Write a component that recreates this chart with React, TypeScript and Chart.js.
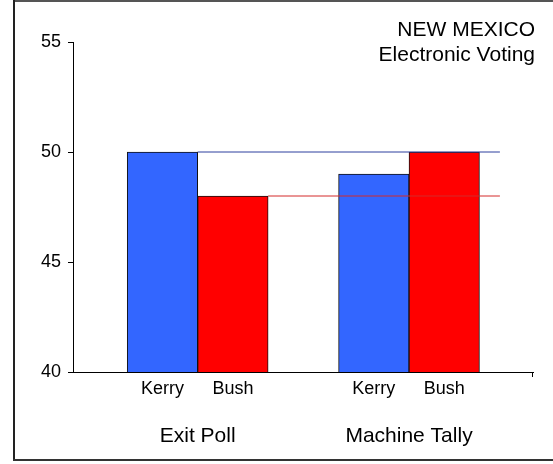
import React, { useEffect, useRef } from "react";
import { Chart, registerables } from "chart.js";

Chart.register(...registerables);

// ---- data ----
const groups = ["Exit Poll", "Machine Tally"];
const candidates = ["Kerry", "Bush"];
const exitPoll = [50, 48];
const machineTally = [49, 50];
const yTicks = [40, 45, 50, 55];
const titleLines = ["NEW MEXICO", "Electronic Voting"];

// ---- styling ----
const candidateColors = ["#3366ff", "#ff0000"];
const lineColors = ["#2c3f9e", "#d42a2a"];
const FONT = '"Liberation Sans", Arial, sans-serif';

const groupValues = [exitPoll, machineTally];
const SLOTS_PER_GROUP = candidates.length + 1;
const slot = (g: number, c: number) => g * SLOTS_PER_GROUP + c;
const X_MIN = -1.27;
const X_MAX = 5.26;
const X_LINE_END = 4.79;

const framePlugin = {
  id: "frame",
  beforeDraw(chart: any) {
    const { ctx, width } = chart;
    ctx.save();
    ctx.fillStyle = "#ffffff";
    ctx.fillRect(0, 0, width, chart.height);
    ctx.fillStyle = "#555555";
    ctx.fillRect(13, 0, width - 13, 2);
    ctx.fillStyle = "#222222";
    ctx.fillRect(13, 0, 2, 461);
    ctx.fillStyle = "#333333";
    ctx.fillRect(13, 459, width - 13, 2);
    ctx.restore();
  },
  afterDraw(chart: any) {
    const { ctx, chartArea } = chart;
    ctx.save();
    ctx.fillStyle = "#000";
    ctx.fillRect(Math.round(chartArea.right) - 1, Math.round(chartArea.bottom), 1, 5);
    ctx.restore();
  },
};

const titlePlugin = {
  id: "cornerTitle",
  afterDraw(chart: any) {
    const { ctx, chartArea } = chart;
    ctx.save();
    ctx.font = `21px ${FONT}`;
    ctx.fillStyle = "#000";
    ctx.textAlign = "right";
    ctx.textBaseline = "alphabetic";
    titleLines.forEach((t, i) => ctx.fillText(t, chartArea.right + 2, 36 + i * 25));
    ctx.restore();
  },
};

export default function App() {
  const ref = useRef<HTMLCanvasElement | null>(null);

  useEffect(() => {
    if (!ref.current) return;

    const barData = groupValues.flatMap((vals, g) =>
      vals.map((v, c) => ({ x: slot(g, c), y: v }))
    );
    const barColors = groupValues.flatMap((vals) =>
      vals.map((_, c) => candidateColors[c])
    );
    const barSlots = barData.map((d) => d.x);

    const lineSets = candidates.map((name, c) => ({
      type: "line" as const,
      label: name + " exit poll",
      data: [
        { x: slot(0, c) + 0.5, y: exitPoll[c] },
        { x: X_LINE_END, y: exitPoll[c] },
      ],
      borderColor: lineColors[c],
      borderWidth: 1,
      pointRadius: 0,
      fill: false,
      order: 0,
    }));

    const chart = new Chart(ref.current, {
      type: "bar",
      data: {
        datasets: [
          {
            type: "bar" as const,
            label: "votes",
            data: barData as any,
            backgroundColor: barColors,
            borderColor: "#111111",
            borderWidth: 1,
            categoryPercentage: 1,
            barPercentage: 1,
            order: 1,
          },
          ...(lineSets as any),
        ],
      },
      options: {
        animation: false,
        responsive: false,
        devicePixelRatio: 1,
        layout: { padding: { left: 0, right: 20, top: 42, bottom: 0 } },
        plugins: {
          legend: { display: false },
          tooltip: { enabled: false },
          title: { display: false },
        },
        scales: {
          x: {
            type: "linear",
            min: X_MIN,
            max: X_MAX,
            offset: false,
            weight: 0,
            afterBuildTicks: (scale: any) => {
              scale.ticks = barSlots.map((v) => ({ value: v }));
            },
            afterFit: (scale: any) => {
              scale.height = 30;
            },
            ticks: {
              autoSkip: false,
              maxRotation: 0,
              padding: 6,
              color: "#000",
              font: { family: FONT, size: 18 },
              callback: (value: any) => candidates[Number(value) % SLOTS_PER_GROUP],
            },
            grid: { display: false, drawTicks: false, offset: false },
            border: { display: true, color: "#000", width: 1 },
          },
          x2: {
            type: "linear",
            position: "bottom",
            min: X_MIN,
            max: X_MAX,
            offset: false,
            weight: 1,
            afterBuildTicks: (scale: any) => {
              scale.ticks = groups.map((_, g) => ({ value: slot(g, 0) + 0.5 }));
            },
            afterFit: (scale: any) => {
              scale.height = 62;
            },
            ticks: {
              autoSkip: false,
              maxRotation: 0,
              padding: 22,
              color: "#000",
              font: { family: FONT, size: 21 },
              callback: (value: any) => groups[Math.floor(Number(value) / SLOTS_PER_GROUP)],
            },
            grid: { display: false, drawTicks: false, offset: false },
            border: { display: false },
          },
          y: {
            min: yTicks[0],
            max: yTicks[yTicks.length - 1],
            afterBuildTicks: (scale: any) => {
              scale.ticks = yTicks.map((v) => ({ value: v }));
            },
            afterFit: (scale: any) => {
              scale.width = 73;
            },
            ticks: {
              padding: 7,
              color: "#000",
              font: { family: FONT, size: 18 },
            },
            grid: {
              drawOnChartArea: false,
              drawTicks: true,
              tickLength: 5,
              color: "#000",
            },
            border: { display: true, color: "#000", width: 1 },
          },
        },
      },
      plugins: [framePlugin, titlePlugin],
    });

    return () => chart.destroy();
  }, []);

  return (
    <div style={{ position: "absolute", left: 0, top: 0, width: 553, height: 464 }}>
      <canvas ref={ref} width={553} height={464} style={{ width: 553, height: 464 }} />
    </div>
  );
}
